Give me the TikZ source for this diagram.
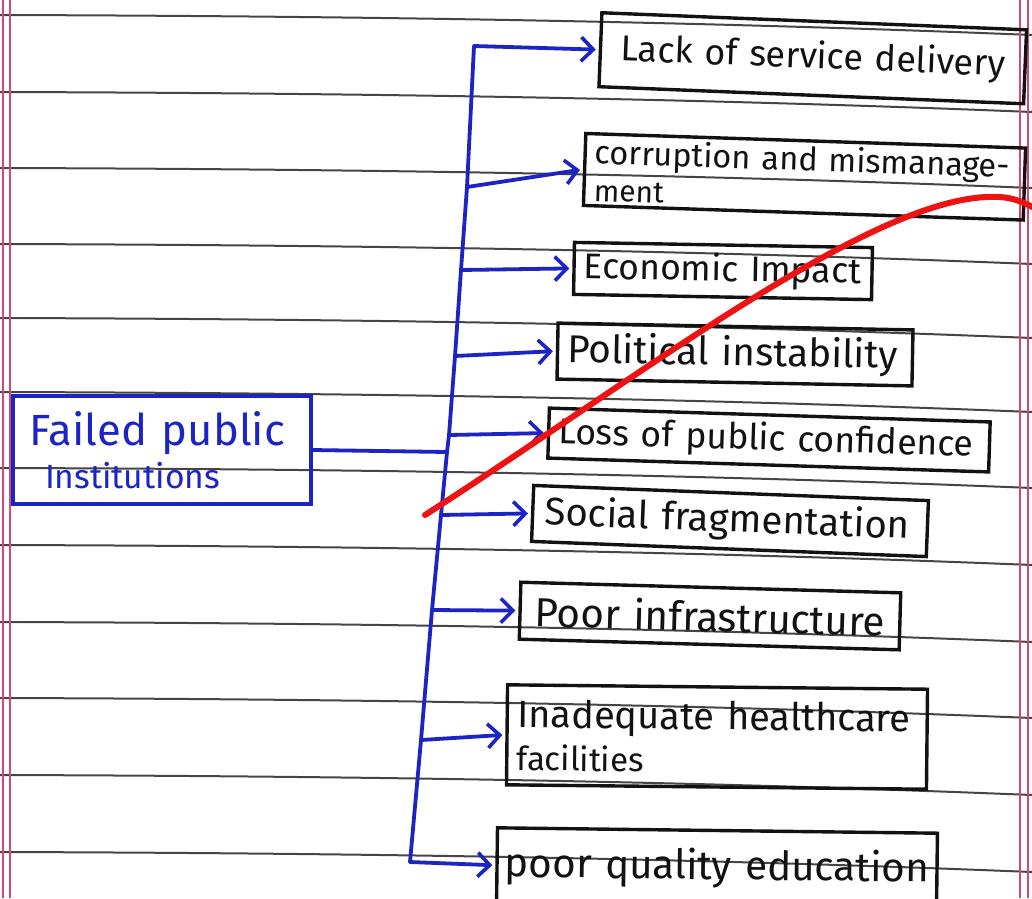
\documentclass[tikz,border=0pt]{standalone}
\usepackage{fontspec}
\setmainfont{Fira Sans}
\usetikzlibrary{arrows.meta}
\definecolor{ink}{RGB}{28,36,196}
\definecolor{pencil}{RGB}{18,18,18}
\definecolor{rulegray}{RGB}{72,68,68}
\definecolor{marginpink}{RGB}{214,70,120}
\definecolor{strike}{RGB}{238,18,18}
% fit one handwritten line to a given width
\newcommand{\hw}[2]{\resizebox{#1pt}{!}{#2}}

\begin{document}
\begin{tikzpicture}[x=1pt,y=-1pt,
  ruling/.style={rulegray, line width=2pt},
  marginline/.style={marginpink, line width=1.5pt},
  leaf/.style={draw=pencil, text=pencil, line width=3.4pt, inner ysep=0pt,
    align=left, anchor=center},
  link/.style={ink, line width=3.8pt, line cap=round, line join=round},
  arr/.style={link, -{Straight Barb[length=12pt,width=24pt,line width=3.6pt]}, shorten >=3pt}]
\useasboundingbox (0,0) rectangle (1032,898);
\fill[white] (0,0) rectangle (1032,898);

% ruled notebook paper
\foreach \y in {15,92,168,244,318,392,468,545,622,698,775,852}
  \draw[ruling] (0,\y) .. controls (344,\y+1) and (688,\y+6) .. (1032,\y+20);
\draw[marginline] (3,0) -- (3,898);
\draw[marginline] (10,0) -- (10,898);
\draw[marginline] (1020,0) -- (1020,898);
\draw[marginline] (1028,0) -- (1028,898);

% root box
\node[draw=ink, text=ink, line width=3.4pt, inner xsep=17pt, inner ysep=0pt,
  text width=264pt, minimum height=108, align=left] (root) at (162,450)
  {\hw{255}{Failed public}\\[6pt]\hspace*{15pt}\hw{175}{Institutions}};

% consequence boxes
\node[leaf, inner xsep=20pt, text width=385pt, minimum height=74, rotate=-2.3]
  (b1) at (812.75,58.25) {\hw{385}{Lack of service delivery}};
\node[leaf, inner xsep=10pt, text width=420pt, minimum height=72, rotate=-1.9]
  (b2) at (804.5,176.75) {\hw{415}{corruption and mismanage-}\\[10pt]\hw{70}{ment}};
\node[leaf, inner xsep=10pt, text width=278pt, minimum height=52, rotate=-1]
  (b3) at (723,271) {\hw{277}{Economic Impact}};
\node[leaf, inner xsep=10pt, text width=335pt, minimum height=56, rotate=-1.1]
  (b4) at (735,354.5) {\hw{330}{Political instability}};
\node[leaf, inner xsep=10pt, text width=421pt, minimum height=50, rotate=-1.8]
  (b5) at (769,440) {\hw{415}{Loss of public confidence}};
\node[leaf, inner xsep=12pt, text width=371pt, minimum height=56, rotate=-2.2]
  (b6) at (730,521) {\hw{365}{Social fragmentation}};
\node[leaf, inner xsep=15pt, text width=350pt, minimum height=57, rotate=-1.6]
  (b7) at (710,616) {\hw{350}{Poor infrastructure}};
\node[leaf, inner xsep=10pt, text width=400pt, minimum height=100, rotate=-0.6]
  (b8) at (717,737) {\hw{393}{Inadequate healthcare}\\[8pt]\hw{127}{facilities}};
\node[leaf, inner xsep=8pt, text width=424pt, minimum height=75, rotate=-0.7]
  (b9) at (717,868) {\hw{424}{poor quality education}};

% points on the vertical trunk
\coordinate (t0) at (474,46);
\coordinate (t1) at (467,187);
\coordinate (t2) at (461,270);
\coordinate (t3) at (455,356);
\coordinate (t4) at (449,435);
\coordinate (tm) at (447,452);
\coordinate (t5) at (441,515);
\coordinate (t6) at (432,610);
\coordinate (t7) at (421,740);
\coordinate (t8) at (410,862);

% trunk and branches
\draw[link] (t0) -- (t1) -- (t2) -- (t3) -- (t4) -- (tm) -- (t5) -- (t6) -- (t7) -- (t8);
\draw[link] (root.east) -- (tm);
\draw[arr] (t0) -- (b1.west);
\draw[arr] (t1) -- (b2.west);
\draw[arr] (t2) -- (b3.west);
\draw[arr] (t3) -- (b4.west);
\draw[arr] (t4) -- (b5.west);
\draw[arr] (t5) -- (b6.west);
\draw[arr] (t6) -- (b7.west);
\draw[arr] (t7) -- (b8.west);
\draw[arr] (t8) -- (b9.west);

% red stroke across the page
\draw[strike, line width=6pt, line cap=round]
  (425,515) .. controls (650,370) and (880,190) .. (1000,197)
  .. controls (1015,198) and (1025,203) .. (1036,209);
\end{tikzpicture}
\end{document}
